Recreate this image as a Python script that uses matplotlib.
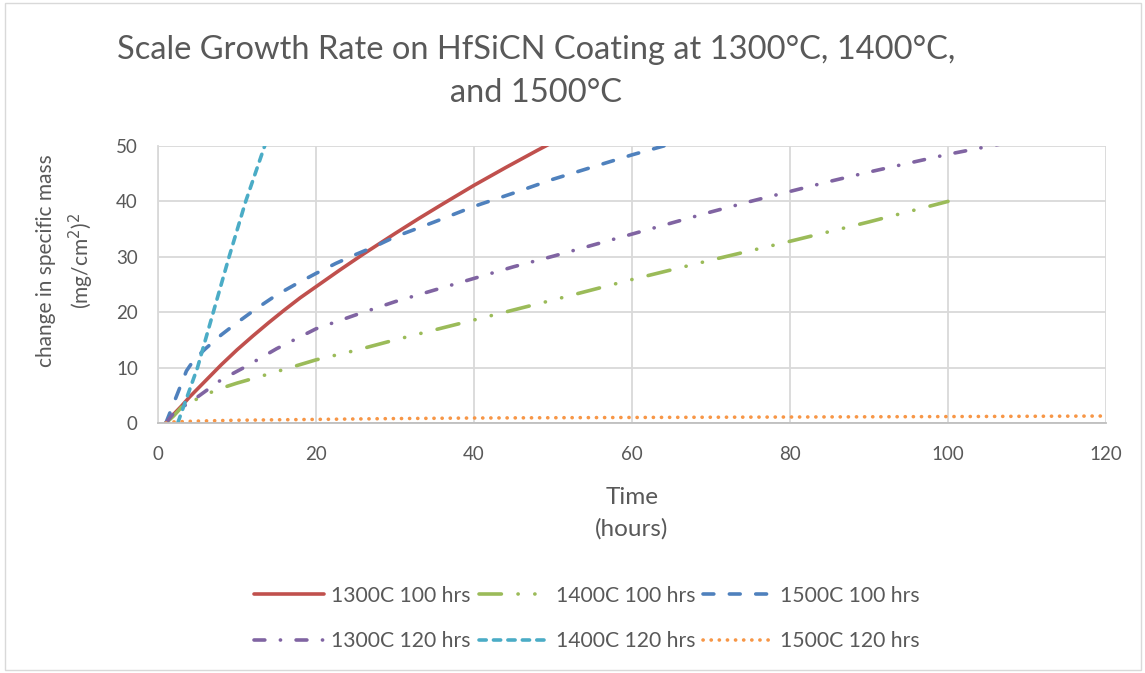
import matplotlib
matplotlib.use("Agg")
import matplotlib.pyplot as plt
from matplotlib.patches import Rectangle

plt.rcParams['font.family'] = ['Lato', 'DejaVu Sans']

# ---- data ----
hours_1300_100 = [1, 2, 3, 4, 6, 8, 10, 12, 14, 16, 18, 20, 23, 26, 30, 33, 36, 40, 44, 48, 50]
mass_1300_100 = [0, 1.6, 3.1, 4.7, 7.6, 10.5, 13.2, 15.7, 18.1, 20.4, 22.6, 24.6, 27.6, 30.5,
                 34.2, 36.9, 39.5, 42.9, 46.1, 49.2, 50.7]

hours_1400_100 = [1, 2, 3.2, 5.5, 7.4, 10, 12.7, 16.5, 20, 25, 30, 35, 40, 45, 50, 60, 70, 80, 90, 100]
mass_1400_100 = [0, 1.3, 3.2, 4.7, 6.0, 7.2, 8.3, 9.9, 11.4, 13.1, 15.0, 16.8, 18.6, 20.4, 22.2,
                 25.9, 29.4, 32.8, 36.3, 40.0]

hours_1500_100 = [1, 2.3, 3.6, 4.6, 6, 8, 10, 12.5, 15, 17.5, 20, 22.5, 25, 27.5, 30, 35, 40,
                  45, 50, 55, 60, 65]
mass_1500_100 = [0, 4.7, 9.4, 11.5, 13.4, 15.9, 18.1, 20.7, 23.1, 25.1, 27.0, 28.8, 30.4, 31.9,
                 33.6, 36.3, 39.1, 41.5, 44.0, 46.2, 48.4, 50.4]

hours_1300_120 = [1, 2, 5, 8, 11, 15, 20, 25, 30, 35, 40, 45, 50, 55, 60, 65, 70, 75, 80,
                  85, 90, 95, 100, 110]
mass_1300_120 = [0, 1.8, 4.7, 7.8, 10.1, 13.4, 17.0, 19.5, 21.9, 24.0, 26.1, 28.2, 30.1, 32.1,
                 34.1, 36.1, 38.1, 40.0, 41.8, 43.6, 45.3, 46.9, 48.5, 51.3]

hours_1400_120 = [2.5, 5.0, 7.0, 9.0, 11.1, 13.5, 14.0]
mass_1400_120 = [0, 10, 20, 30, 40, 50, 52]

hours_1500_120 = [1, 2, 5, 10, 20, 30, 40, 60, 80, 100, 120]
mass_1500_120 = [0, 0.2, 0.35, 0.5, 0.65, 0.8, 0.9, 1.0, 1.08, 1.16, 1.26]

labels = ["1300C 100 hrs", "1400C 100 hrs", "1500C 100 hrs",
          "1300C 120 hrs", "1400C 120 hrs", "1500C 120 hrs"]

x_ticks = [0, 20, 40, 60, 80, 100, 120]
y_ticks = [0, 10, 20, 30, 40, 50]

title = "Scale Growth Rate on HfSiCN Coating at 1300°C, 1400°C,\nand 1500°C"

# ---- figure ----
W, H = 1145, 673
fig = plt.figure(figsize=(W / 100, H / 100), dpi=100)
fig.patch.set_facecolor("white")

def fx(px):
    return px / W

def fy(py):
    return 1 - py / H

# outer chart border
fig.patches.append(Rectangle((fx(5), fy(670)), fx(1136), 667 / H, transform=fig.transFigure,
                             fill=False, edgecolor="#d9d9d9", linewidth=1.0))

left, right, top, bottom = 158, 1106, 146, 423
ax = fig.add_axes([fx(left), fy(bottom), fx(right - left), (bottom - top) / H])

grey = "#595959"
lw = 2.6
series = [
    (hours_1300_100, mass_1300_100, "#C0504D", "-"),
    (hours_1400_100, mass_1400_100, "#9BBB59", (0, (6.2, 4.6, 0.05, 4.6, 0.05, 4.6))),
    (hours_1500_100, mass_1500_100, "#4F81BD", (0, (3.0, 4.3))),
    (hours_1300_120, mass_1300_120, "#8064A2", (0, (3.0, 4.3, 0.05, 4.3))),
    (hours_1400_120, mass_1400_120, "#4BACC6", (0, (2.0, 2.0))),
    (hours_1500_120, mass_1500_120, "#F79646", (0, (0.05, 2.2))),
]
handles = []
for (xs, ys, c, ls), lab in zip(series, labels):
    ln, = ax.plot(xs, ys, color=c, linestyle=ls, linewidth=lw, label=lab,
                  solid_capstyle="round", dash_capstyle="round", solid_joinstyle="round")
    handles.append(ln)

ax.set_xlim(0, 120)
ax.set_ylim(0, 50)
ax.set_xticks(x_ticks)
ax.set_yticks(y_ticks)
ax.grid(True, color="#d9d9d9", linewidth=1.3)
ax.set_axisbelow(True)
for s in ["top", "right"]:
    ax.spines[s].set_visible(False)
ax.spines["left"].set_color("#d9d9d9")
ax.spines["left"].set_linewidth(1.3)
ax.spines["bottom"].set_color("#bfbfbf")
ax.spines["bottom"].set_linewidth(1.3)
ax.tick_params(length=0, labelsize=13.5, colors=grey, pad=14.5)
ax.tick_params(axis="x", pad=16.5)

fig.text(fx(536), fy(101.7), title, ha="center", va="baseline", fontsize=23.5,
         color=grey, linespacing=1.52, multialignment="center")

fig.text(fx(632), fy(536), "Time\n(hours)", ha="center", va="baseline", fontsize=17.5,
         color=grey, linespacing=1.62, multialignment="center")
fig.text(fx(66), fy(261), "change in specific mass\n(mg/cm$^2$)$^2$", ha="center", va="center",
         rotation=90, fontsize=15, color=grey, linespacing=1.45, multialignment="center")

order = [0, 3, 1, 4, 2, 5]
fig.legend([handles[i] for i in order], [labels[i] for i in order],
           loc="center", bbox_to_anchor=(fx(587), fy(618.5)), ncol=3, frameon=False,
           fontsize=15.2, handlelength=3.3, handletextpad=0.33, columnspacing=0.4,
           labelspacing=1.2, labelcolor=grey, borderpad=0)

fig.savefig("out.png", dpi=100, facecolor="white")
